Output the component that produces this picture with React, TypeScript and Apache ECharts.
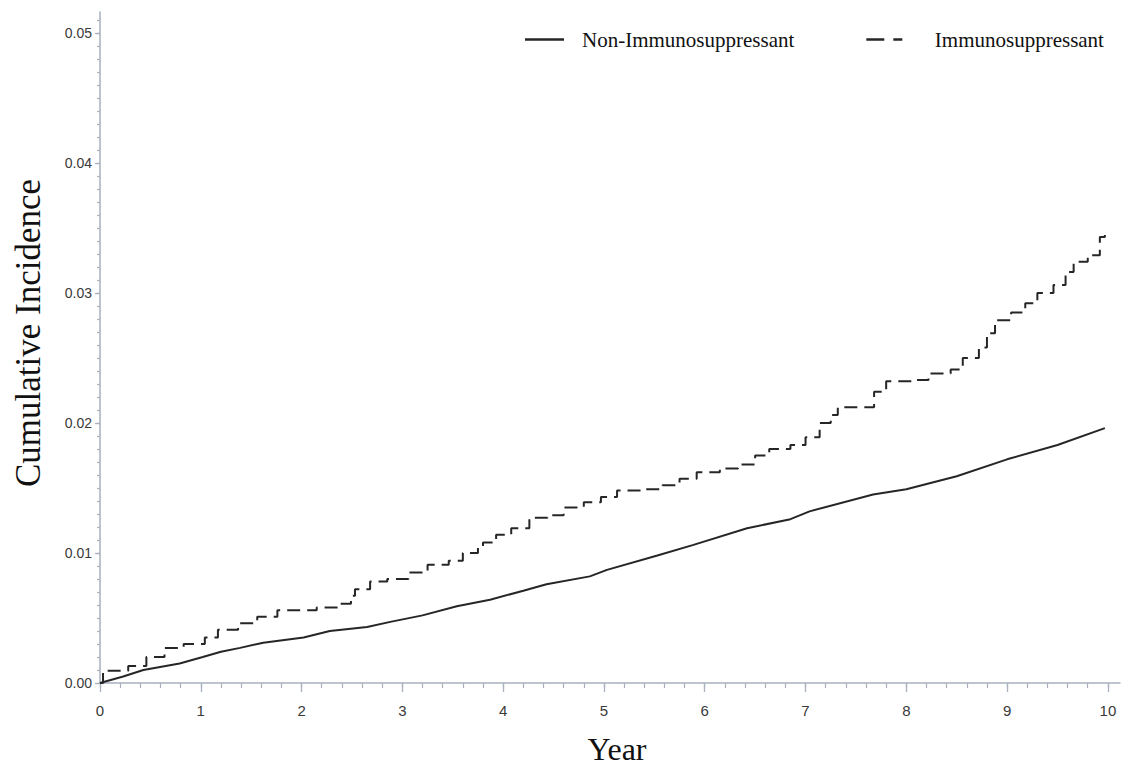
import React, { useEffect, useRef } from "react";
import * as echarts from "echarts";

// Non-Immunosuppressant cumulative incidence (solid)
const nonImmTime = [0, 0.23, 0.43, 0.79, 1.02, 1.2, 1.39, 1.62, 2.02, 2.28, 2.65, 2.88, 3.2, 3.54, 3.87, 4.2, 4.43, 4.86, 5.03, 5.53, 5.88, 6.42, 6.85, 7.04, 7.67, 8.0, 8.5, 9.0, 9.5, 9.97];
const nonImmCI = [0, 0.0005, 0.001, 0.0015, 0.002, 0.0024, 0.0027, 0.0031, 0.0035, 0.004, 0.0043, 0.0047, 0.0052, 0.0059, 0.0064, 0.0071, 0.0076, 0.0082, 0.0087, 0.0098, 0.0106, 0.0119, 0.0126, 0.0132, 0.0145, 0.0149, 0.0159, 0.0172, 0.0183, 0.0196];

// Immunosuppressant cumulative incidence (dashed, step function)
const immTime = [0, 0.03, 0.28, 0.46, 0.64, 0.83, 1.04, 1.17, 1.37, 1.56, 1.76, 2.15, 2.38, 2.49, 2.53, 2.68, 2.85, 3.06, 3.25, 3.46, 3.6, 3.75, 3.8, 3.93, 4.08, 4.26, 4.44, 4.6, 4.8, 4.97, 5.13, 5.37, 5.58, 5.75, 5.92, 6.15, 6.33, 6.5, 6.64, 6.85, 7.0, 7.14, 7.25, 7.32, 7.68, 7.8, 8.08, 8.22, 8.44, 8.56, 8.72, 8.8, 8.88, 9.04, 9.18, 9.3, 9.46, 9.58, 9.66, 9.8, 9.92, 9.97, 10.0];
const immCI = [0, 0.00095, 0.0013, 0.002, 0.0027, 0.003, 0.0035, 0.0041, 0.0046, 0.0051, 0.0056, 0.0058, 0.0061, 0.0067, 0.0072, 0.0078, 0.008, 0.0085, 0.0091, 0.0094, 0.01, 0.0104, 0.0108, 0.0114, 0.0119, 0.0127, 0.0129, 0.0135, 0.0139, 0.0143, 0.0148, 0.0149, 0.0152, 0.0157, 0.0162, 0.0165, 0.0168, 0.0175, 0.018, 0.0183, 0.0189, 0.02, 0.0206, 0.0212, 0.0224, 0.0232, 0.0233, 0.0238, 0.0241, 0.025, 0.0258, 0.0269, 0.0279, 0.0285, 0.0292, 0.03, 0.0306, 0.0316, 0.0324, 0.0329, 0.0343, 0.0346, 0.0346];

const seriesNames = ["Non-Immunosuppressant", "Immunosuppressant"];
const xMajorTicks = [0, 1, 2, 3, 4, 5, 6, 7, 8, 9, 10];
const yMajorTicks = [0, 0.01, 0.02, 0.03, 0.04, 0.05];
const xMinorTicks = Array.from({ length: 51 }, (_, i) => Number((i * 0.2).toFixed(1)));
const yMinorTicks = Array.from({ length: 52 }, (_, i) => Number((i * 0.001).toFixed(3)));

const X_MAX = 10.12;
const Y_MAX = 0.0516;
const AXIS_COLOR = "#a9b1bd";
const LINE_COLOR = "#262626";
const SERIF = "'Liberation Serif', 'Times New Roman', serif";

export default function App() {
  const ref = useRef<HTMLDivElement>(null);
  useEffect(() => {
    if (!ref.current) return;
    const chart = echarts.init(ref.current, undefined, { renderer: "svg" });
    const nonImmData = nonImmTime.map((t, i) => [t, nonImmCI[i]]);
    const immData = immTime.map((t, i) => [t, immCI[i]]);
    const tickLabelFont = "'Liberation Sans', Arial, sans-serif";
    chart.setOption({
      animation: false,
      backgroundColor: "#ffffff",
      grid: { left: 100, right: 5, top: 12, bottom: 86, containLabel: false },
      legend: {
        left: 525,
        top: 29,
        padding: 0,
        itemWidth: 39,
        itemHeight: 2.5,
        itemGap: 72,
        textStyle: {
          fontFamily: SERIF,
          fontSize: 21,
          color: "#111",
          padding: [0, 0, 0, 13],
        },
        data: [
          { name: seriesNames[0], icon: "path://M0,0H39V2.5H0Z" },
          {
            name: seriesNames[1],
            icon: "path://M0,0H18V2.5H0Z M27,0H36V2.5H27Z",
            textStyle: { fontFamily: SERIF, fontSize: 21, color: "#111", padding: [0, 0, 0, 26] },
          },
        ],
      },
      xAxis: [
        {
          type: "value",
          min: 0,
          max: X_MAX,
          position: "bottom",
          axisLine: { show: true, onZero: false, lineStyle: { color: AXIS_COLOR, width: 1.5 } },
          axisTick: { show: true, length: 9, customValues: xMajorTicks, lineStyle: { color: AXIS_COLOR, width: 1.3 } },
          axisLabel: {
            customValues: xMajorTicks,
            margin: 20,
            fontFamily: tickLabelFont,
            fontSize: 15,
            color: "#3a3a3a",
            formatter: (v: number) => String(v),
          },
          splitLine: { show: false },
        },
        {
          type: "value",
          min: 0,
          max: X_MAX,
          position: "bottom",
          axisLine: { show: false, onZero: false },
          axisTick: { show: true, length: 5, customValues: xMinorTicks, lineStyle: { color: AXIS_COLOR, width: 1.2 } },
          axisLabel: { show: false },
          splitLine: { show: false },
        },
      ],
      yAxis: [
        {
          type: "value",
          min: 0,
          max: Y_MAX,
          position: "left",
          axisLine: { show: true, onZero: false, lineStyle: { color: AXIS_COLOR, width: 1.5 } },
          axisTick: { show: true, length: 5, customValues: yMajorTicks, lineStyle: { color: AXIS_COLOR, width: 1.3 } },
          axisLabel: {
            customValues: yMajorTicks,
            margin: 8,
            fontFamily: tickLabelFont,
            fontSize: 14,
            color: "#3a3a3a",
            formatter: (v: number) => v.toFixed(2),
          },
          splitLine: { show: false },
        },
        {
          type: "value",
          min: 0,
          max: Y_MAX,
          position: "left",
          axisLine: { show: false, onZero: false },
          axisTick: { show: true, length: 3, customValues: yMinorTicks, lineStyle: { color: AXIS_COLOR, width: 1.2 } },
          axisLabel: { show: false },
          splitLine: { show: false },
        },
      ],
      graphic: [
        {
          type: "text",
          x: 28,
          y: 333,
          rotation: Math.PI / 2,
          style: {
            text: "Cumulative Incidence",
            font: `35px ${SERIF}`,
            fill: "#111",
            textAlign: "center",
            textVerticalAlign: "middle",
          },
        },
        {
          type: "text",
          x: 617,
          y: 749,
          style: {
            text: "Year",
            font: `32px ${SERIF}`,
            fill: "#111",
            textAlign: "center",
            textVerticalAlign: "middle",
          },
        },
      ],
      series: [
        {
          name: seriesNames[0],
          type: "line",
          xAxisIndex: 0,
          yAxisIndex: 0,
          data: nonImmData,
          showSymbol: false,
          symbol: "none",
          color: LINE_COLOR,
          lineStyle: { color: LINE_COLOR, width: 2, type: "solid" },
        },
        {
          name: seriesNames[1],
          type: "line",
          xAxisIndex: 0,
          yAxisIndex: 0,
          step: "end",
          data: immData,
          showSymbol: false,
          symbol: "none",
          color: LINE_COLOR,
          lineStyle: { color: LINE_COLOR, width: 2, type: [13, 7] },
        },
      ],
    });
    return () => chart.dispose();
  }, []);
  return (
    <div
      ref={ref}
      style={{ position: "absolute", left: 0, top: 0, width: 1125, height: 769, background: "#fff" }}
    />
  );
}
